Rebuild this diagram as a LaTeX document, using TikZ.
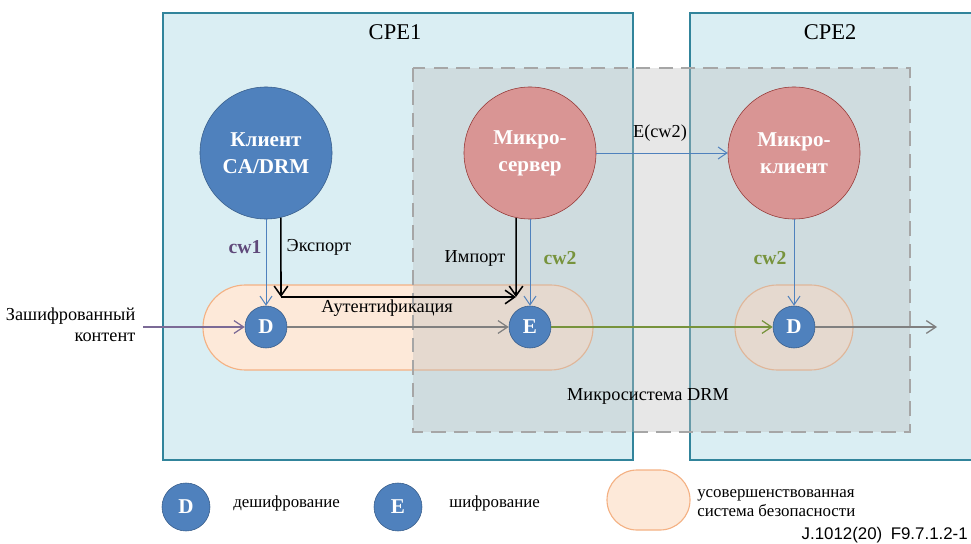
\documentclass[tikz,border=0pt]{standalone}
\usepackage{fontspec}
\setmainfont{Liberation Serif}
\newfontfamily\figsans{Liberation Sans}
\usetikzlibrary{arrows.meta,positioning}

\definecolor{cpefill}{HTML}{DAEEF3}
\definecolor{cpeline}{HTML}{31849B}
\definecolor{drmgray}{HTML}{BFBFBF}
\definecolor{drmline}{HTML}{A6A6A6}
\definecolor{cablue}{HTML}{4F81BD}
\definecolor{cabluedark}{HTML}{385D8A}
\definecolor{microred}{HTML}{D99594}
\definecolor{microline}{HTML}{943634}
\definecolor{pillfill}{HTML}{FDE9D9}
\definecolor{pillline}{HTML}{F4B183}
\definecolor{cwpurple}{HTML}{5F497A}
\definecolor{cwgreen}{HTML}{77933C}
\definecolor{inpurple}{HTML}{7B6A96}

\tikzset{
  cpebox/.style={draw=cpeline, line width=1.6pt, fill=cpefill},
  drmbox/.style={draw=drmline, line width=1.8pt, dash pattern=on 10pt off 6pt},
  pill/.style={draw=pillline, line width=0.8pt, fill=pillfill, rounded corners=1.06cm},
  bigcirc/.style={circle, minimum size=3.3cm, inner sep=0pt, align=center,
    text=white, font=\fontsize{15}{19}\selectfont\bfseries},
  clientcirc/.style={bigcirc, draw=cabluedark, fill=cablue},
  microcirc/.style={bigcirc, draw=microline, fill=microred},
  opcirc/.style={circle, minimum size=1.05cm, inner sep=0pt, draw=cabluedark,
    fill=cablue, text=white, font=\fontsize{15}{17}\selectfont\bfseries},
  bluearr/.style={draw=cablue, line width=0.7pt, -{Straight Barb[length=2.2mm,width=3mm]}},
  blkarr/.style={draw=black, line width=1.1pt, -{Straight Barb[length=2.4mm,width=3.4mm]}},
  grayarr/.style={draw=gray, line width=0.9pt, -{Straight Barb[length=2.4mm,width=3.2mm]}},
  lbl/.style={font=\fontsize{13}{15}\selectfont, inner sep=1pt},
  cwlbl/.style={font=\fontsize{14}{16}\selectfont\bfseries, inner sep=1pt},
  keytext/.style={font=\fontsize{12}{13}\selectfont, inner sep=0pt, align=left}
}

\begin{document}
\begin{tikzpicture}[x=0.025cm, y=-0.025cm]
  \useasboundingbox (0,0) rectangle (971,544);

  %devices
  \draw[cpebox] (163,13) rectangle (633,460);
  \draw[cpebox] (690,13) rectangle (973,460);
  \node[font=\fontsize{16}{18}\selectfont] (cpe1) at (395,32) {CPE1};
  \node[font=\fontsize{16}{18}\selectfont] (cpe2) at (830,32) {CPE2};

  %security systems
  \draw[pill] (203,285) rectangle (593,370);
  \draw[pill] (735,285) rectangle (853,370);

  %DRM microsystem
  \fill[drmgray, opacity=0.38] (413,68) rectangle (910,432);
  \draw[drmbox] (413,68) rectangle (910,432);
  \node[lbl] (drm) at (648,396) {Микросистема DRM};

  %main circles
  \node[clientcirc] (cl) at (266,153) {Клиент\\CA/DRM};
  \node[microcirc] (ms) at (530,153) {Микро-\\сервер};
  \node[microcirc] (mc) at (794,153) {Микро-\\клиент};

  %D and E
  \node[opcirc] (d1) at (266,327) {D};
  \node[opcirc] (e) at (530,327) {E};
  \node[opcirc] (d2) at (794,327) {D};

  %content flow
  \node[lbl, align=right, anchor=east] (incont) at (137,325) {Зашифрованный\\контент};
  \coordinate (in) at (143,327);
  \coordinate (out) at (937,327);
  \draw[grayarr, draw=inpurple] (in) -- (d1);
  \draw[grayarr] (d1) -- (e);
  \draw[grayarr, draw=cwgreen] (e) -- (d2);
  \draw[grayarr] (d2) -- (out);

  %keys
  \draw[bluearr] (cl) -- (d1);
  \node[cwlbl, text=cwpurple] (cw1) at (245,247) {cw1};
  \draw[bluearr] (ms) -- (e);
  \node[cwlbl, text=cwgreen] (cw2a) at (560,258) {cw2};
  \draw[bluearr] (ms) -- (mc);
  \node[lbl] (ecw) at (660,133) {E(cw2)};
  \draw[bluearr] (mc) -- (d2);
  \node[cwlbl, text=cwgreen] (cw2b) at (770,258) {cw2};

  %export / import
  \coordinate (expt) at (281,297);
  \coordinate (impt) at (516,297);
  \draw[blkarr] (cl.-77) -- (expt);
  \draw[blkarr] (expt) -- (impt);
  \draw[blkarr] (ms.-102) -- (impt);
  \node[lbl, anchor=west] (exp) at (285,247) {Экспорт};
  \node[lbl, anchor=east] (imp) at (507,258) {Импорт};
  \node[lbl] (auth) at (387,308) {Аутентификация};

  %legend
  \node[opcirc, minimum width=1.1cm, minimum height=1.2cm] (kd) at (186,507) {D};
  \node[keytext, anchor=west] (kdt) at (233,503) {дешифрование};
  \node[opcirc, minimum width=1.1cm, minimum height=1.2cm] (ke) at (398,507) {E};
  \node[keytext, anchor=west] (ket) at (449,503) {шифрование};
  \draw[pill, rounded corners=0.75cm] (607,470) rectangle (690,530);
  \node[keytext, anchor=west] (kpt) at (697,503) {усовершенствованная\\система безопасности};
  \node[font=\figsans\fontsize{12}{13}\selectfont, anchor=east, inner sep=0pt] (fig) at (968,535) {J.1012(20)\enspace F9.7.1.2-1};
\end{tikzpicture}
\end{document}
